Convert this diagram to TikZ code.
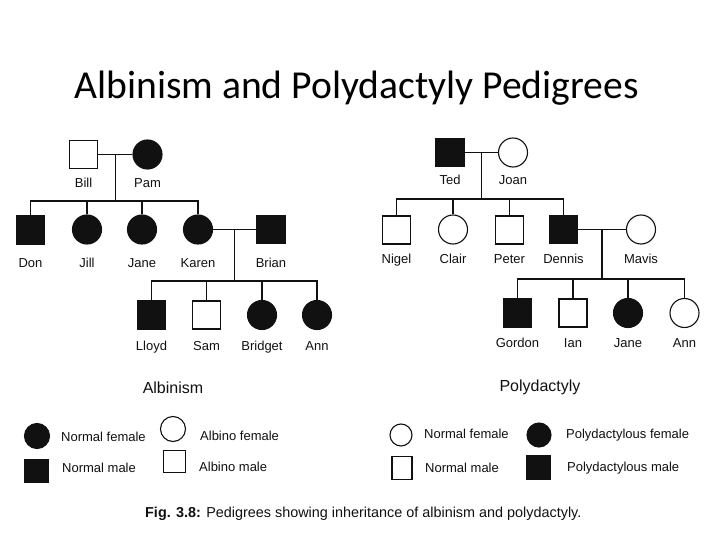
\documentclass[tikz,border=0pt]{standalone}
\usepackage{fontspec}
\setmainfont{Liberation Sans}
\newfontfamily\titlefont{Carlito}
\usepackage{tikz}
\usetikzlibrary{positioning,calc}
\definecolor{ink}{HTML}{111111}
\tikzset{
  male/.style={draw=ink, line width=1.1pt, minimum size=28pt, inner sep=0pt},
  female/.style={circle, draw=ink, line width=1.1pt, minimum size=29pt, inner sep=0pt},
  hit/.style={fill=ink},
  link/.style={draw=ink, line width=1.1pt},
  nm/.style={font=\fontsize{13}{15}\selectfont, text=ink, anchor=base, inner sep=0pt},
  lg/.style={font=\fontsize{13}{15}\selectfont, text=ink, anchor=base west, inner sep=0pt},
  head/.style={font=\fontsize{16}{18}\selectfont, text=ink, anchor=base, inner sep=0pt}
}

\begin{document}
\begin{tikzpicture}[x=1pt, y=-1pt]
  \useasboundingbox (0,0) rectangle (720,540);
  \fill[white] (0,0) rectangle (720,540);

  \node[font=\titlefont\fontsize{39.6}{44}\selectfont, anchor=base, inner sep=0pt] (title)
    at (356.5,98.5) {Albinism and Polydactyly Pedigrees};

  % albinism pedigree
  \node[male] (bill) at (83.5,154.5) {};
  \node[female, hit] (pam) at (147.5,154.5) {};
  \node[male, hit] (don) at (30.5,230) {};
  \node[female, hit] (jill) at (87,229.5) {};
  \node[female, hit] (jane) at (142,229.5) {};
  \node[female, hit] (karen) at (198,229.5) {};
  \node[male, hit] (brian) at (271,229.5) {};
  \node[male, hit] (lloyd) at (151.5,315) {};
  \node[male] (sam) at (206.5,315) {};
  \node[female, hit] (bridget) at (262,315) {};
  \node[female, hit] (ann) at (317,315) {};

  \node[nm] (lbill) at (bill |- 0,188) {Bill};
  \node[nm] (lpam) at (pam |- 0,188) {Pam};
  \node[nm] (ldon) at (don |- 0,267) {Don};
  \node[nm] (ljill) at (jill |- 0,267) {Jill};
  \node[nm] (ljane) at (jane |- 0,267) {Jane};
  \node[nm] (lkaren) at (karen |- 0,267) {Karen};
  \node[nm] (lbrian) at (brian |- 0,267) {Brian};
  \node[nm] (llloyd) at (lloyd |- 0,350) {Lloyd};
  \node[nm] (lsam) at (sam |- 0,350) {Sam};
  \node[nm] (lbridget) at (bridget |- 0,350) {Bridget};
  \node[nm] (lann) at (ann |- 0,350) {Ann};
  \node[head] (albhead) at (173,393) {Albinism};

  \draw[link] (bill.east) -- (pam.west);
  \coordinate (bp) at ($(bill.east)!0.5!(pam.west)$);
  \coordinate (sibA) at (bp |- 0,201);
  \draw[link] (bp) -- (sibA);
  \draw[link] (don.north) |- (sibA) -| (karen.north);
  \draw[link] (jill.north) -- (jill.north |- sibA);
  \draw[link] (jane.north) -- (jane.north |- sibA);
  \draw[link] (karen.east) -- (brian.west);
  \coordinate (kb) at ($(karen.east)!0.5!(brian.west)$);
  \coordinate (kidsA) at (kb |- 0,281);
  \draw[link] (kb) -- (kidsA);
  \draw[link] (lloyd.north) |- (kidsA) -| (ann.north);
  \draw[link] (sam.north) -- (sam.north |- kidsA);
  \draw[link] (bridget.north) -- (bridget.north |- kidsA);

  % polydactyly pedigree
  \node[male, hit] (ted) at (450,152.5) {};
  \node[female] (joan) at (513,152.5) {};
  \node[male] (nigel) at (396.5,230) {};
  \node[female] (clair) at (453,229.5) {};
  \node[male] (peter) at (509.5,230) {};
  \node[male, hit] (dennis) at (563.5,229.5) {};
  \node[female] (mavis) at (641,229.5) {};
  \node[male, hit] (gordon) at (517.5,313) {};
  \node[male] (ian) at (573,313) {};
  \node[female, hit] (janeP) at (628,313) {};
  \node[female] (annP) at (684.5,313) {};

  \node[nm] (lted) at (ted |- 0,185) {Ted};
  \node[nm] (ljoan) at (joan |- 0,185) {Joan};
  \node[nm] (lnigel) at (nigel |- 0,263) {Nigel};
  \node[nm] (lclair) at (clair |- 0,263) {Clair};
  \node[nm] (lpeter) at (peter |- 0,263) {Peter};
  \node[nm] (ldennis) at (dennis |- 0,263) {Dennis};
  \node[nm] (lmavis) at (mavis |- 0,263) {Mavis};
  \node[nm] (lgordon) at (gordon |- 0,347) {Gordon};
  \node[nm] (lian) at (ian |- 0,347) {Ian};
  \node[nm] (ljaneP) at (janeP |- 0,347) {Jane};
  \node[nm] (lannP) at (annP |- 0,347) {Ann};
  \node[head] (polyhead) at (540,391) {Polydactyly};

  \draw[link] (ted.east) -- (joan.west);
  \coordinate (tj) at ($(ted.east)!0.5!(joan.west)$);
  \coordinate (sibP) at (tj |- 0,199);
  \draw[link] (tj) -- (sibP);
  \draw[link] (nigel.north) |- (sibP) -| (dennis.north);
  \draw[link] (clair.north) -- (clair.north |- sibP);
  \draw[link] (peter.north) -- (peter.north |- sibP);
  \draw[link] (dennis.east) -- (mavis.west);
  \coordinate (dm) at ($(dennis.east)!0.5!(mavis.west)$);
  \coordinate (kidsP) at (dm |- 0,279);
  \draw[link] (dm) -- (kidsP);
  \draw[link] (gordon.north) |- (kidsP) -| (annP.north);
  \draw[link] (ian.north) -- (ian.north |- kidsP);
  \draw[link] (janeP.north) -- (janeP.north |- kidsP);

  % keys
  \node[female, hit, minimum size=25pt] (kA1) at (37,436) {};
  \node[lg] (tA1) at (61,441) {Normal female};
  \node[female, minimum size=25pt] (kA2) at (173,429) {};
  \node[lg] (tA2) at (200,440) {Albino female};
  \node[male, hit, minimum size=23pt] (kA3) at (36.5,471) {};
  \node[lg] (tA3) at (62,472.5) {Normal male};
  \node[male, minimum size=22pt] (kA4) at (174.5,461.5) {};
  \node[lg] (tA4) at (199,471.5) {Albino male};

  \node[female, minimum size=22pt] (kP1) at (401,435) {};
  \node[lg] (tP1) at (424,438) {Normal female};
  \node[female, hit, minimum size=24pt] (kP2) at (539,435) {};
  \node[lg] (tP2) at (566,438) {Polydactylous female};
  \node[male, minimum width=20pt, minimum height=23pt] (kP3) at (402,468) {};
  \node[lg] (tP3) at (425,472) {Normal male};
  \node[male, hit, minimum size=23pt] (kP4) at (538.5,467.5) {};
  \node[lg] (tP4) at (567,471.5) {Polydactylous male};

  \node[lg, font=\fontsize{14.4}{16}\selectfont] (caption) at (145,517)
    {\textbf{Fig. 3.8:} Pedigrees showing inheritance of albinism and polydactyly.};
\end{tikzpicture}
\end{document}
